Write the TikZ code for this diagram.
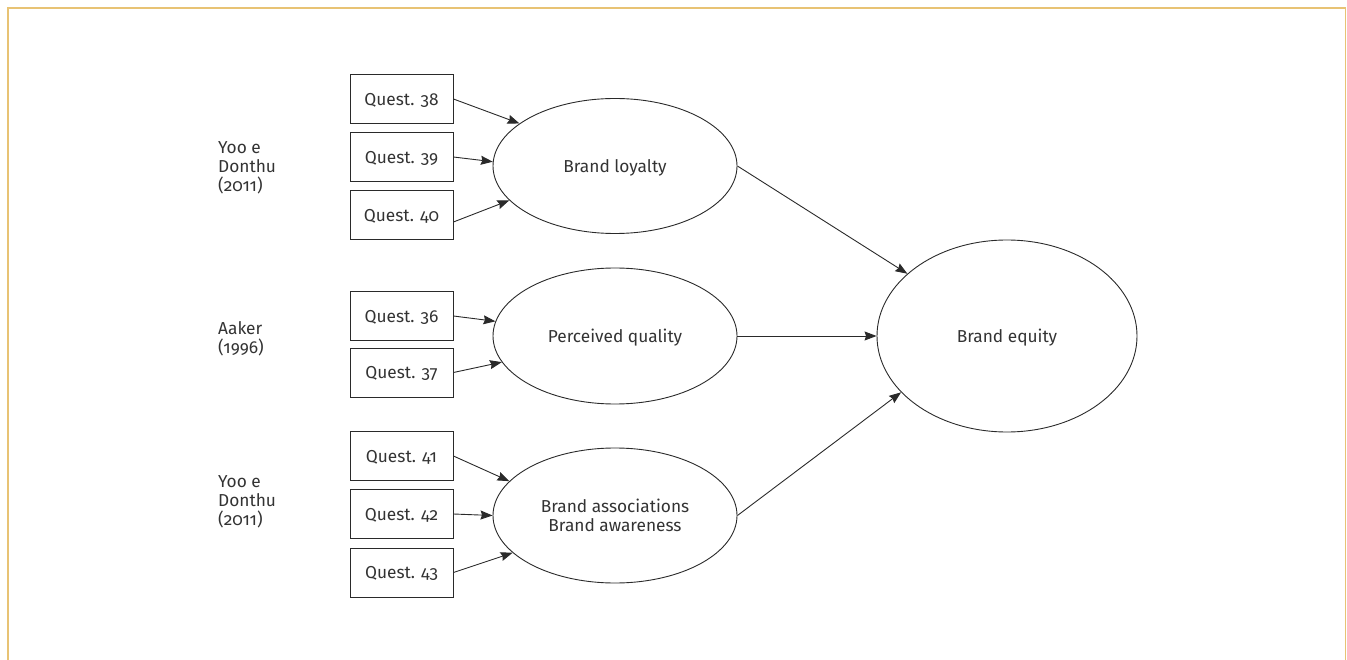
\documentclass[tikz,border=0pt]{standalone}
\usepackage{fontspec}
\setmainfont{Fira Sans}[Numbers=OldStyle]
\usetikzlibrary{shapes.geometric,arrows.meta}
\definecolor{framecol}{HTML}{E8C374}
\definecolor{ink}{HTML}{2A2A2A}
\definecolor{txt}{HTML}{333333}
\tikzset{
  qbox/.style={draw=ink, line width=0.9pt, minimum width=103pt, minimum height=49pt, inner sep=0pt, text=txt, text depth=0pt, font=\fontsize{17.3}{19}\selectfont},
  latent/.style={draw=ink, line width=0.9pt, ellipse, inner sep=0pt, text=txt, align=center, font=\fontsize{17.3}{18.5}\selectfont},
  oneline/.style={text depth=0pt},
  src/.style={anchor=west, align=left, text=txt, inner sep=0pt, font=\fontsize{17.3}{19}\selectfont},
  arr/.style={draw=ink, line width=0.9pt, -{Stealth[length=12pt,width=9pt,inset=1.5pt]}}
}
\begin{document}
\begin{tikzpicture}[x=1pt,y=-1pt]
\useasboundingbox (0,0) rectangle (1347,660);
\draw[framecol, line width=1.6pt] (8,660) -- (8,8) -- (1345.5,8) -- (1345.5,660);

% sources
\node[src] (s1) at (218,168) {Yoo e\\Donthu\\(2011)};
\node[src] (s2) at (218,339) {Aaker\\(1996)};
\node[src] (s3) at (218,502) {Yoo e\\Donthu\\(2011)};

% question boxes
\node[qbox] (q38) at (401.5,99) {Quest. 38};
\node[qbox] (q39) at (401.5,157) {Quest. 39};
\node[qbox] (q40) at (401.5,215) {Quest. 40};
\node[qbox] (q36) at (401.5,316) {Quest. 36};
\node[qbox] (q37) at (401.5,372.5) {Quest. 37};
\node[qbox] (q41) at (401.5,456) {Quest. 41};
\node[qbox] (q42) at (401.5,514) {Quest. 42};
\node[qbox] (q43) at (401.5,572.5) {Quest. 43};

% latent constructs
\node[latent, oneline, minimum width=244pt, minimum height=135pt] (bl) at (615,166) {Brand loyalty};
\node[latent, oneline, minimum width=244pt, minimum height=136pt] (pq) at (615,336) {Perceived quality};
\node[latent, minimum width=244pt, minimum height=135pt] (ba) at (615,515.5) {Brand associations\\Brand awareness};
\node[latent, oneline, minimum width=260pt, minimum height=192pt] (be) at (1007,336) {Brand equity};

% arrows
\draw[arr] (q38.east) -- (bl.156);
\draw[arr] (q39.east) -- (bl.178);
\draw[arr] ([yshift=-7pt]q40.east) -- (bl.198);
\draw[arr] (q36.east) -- (pq.173);
\draw[arr] (q37.east) -- (pq.193);
\draw[arr] (q41.east) -- (ba.162);
\draw[arr] (q42.east) -- (ba.west);
\draw[arr] (q43.east) -- (ba.200);
\draw[arr] (bl.east) -- (be.148);
\draw[arr] (pq.east) -- (be.west);
\draw[arr] (ba.east) -- (be.208);
\end{tikzpicture}
\end{document}
